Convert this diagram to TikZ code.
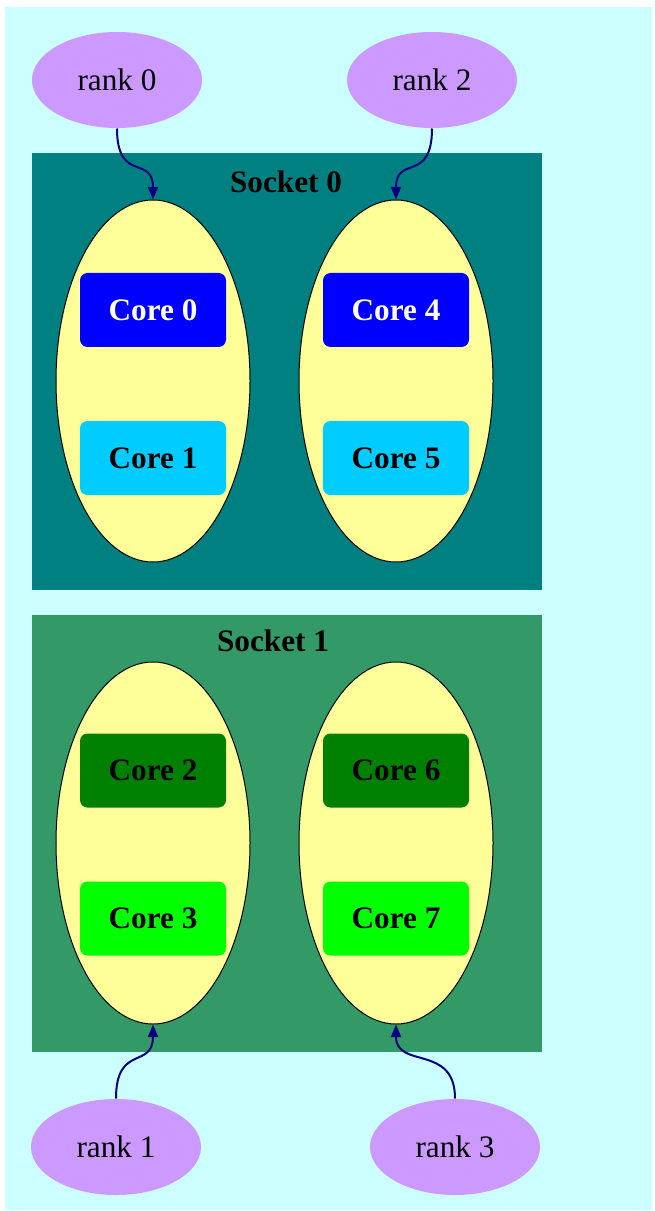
\documentclass[tikz,border=0pt]{standalone}
\usepackage{fontspec}
\setmainfont{Liberation Serif}
\usepackage{xcolor}
\usepackage{tikz}
\usetikzlibrary{positioning, arrows.meta, shapes.geometric}

\definecolor{bgcyan}{HTML}{CCFFFF}
\definecolor{rankpurple}{HTML}{CC99FF}
\definecolor{sockteal}{HTML}{008080}
\definecolor{sockgreen}{HTML}{339966}
\definecolor{chipyellow}{HTML}{FFFF99}
\definecolor{coreblue}{HTML}{0000FF}
\definecolor{coresky}{HTML}{00CCFF}
\definecolor{coredark}{HTML}{008000}
\definecolor{corelime}{HTML}{00FF00}
\definecolor{linknavy}{HTML}{000080}

\begin{document}
\begin{tikzpicture}[
x=0.4pt, y=-0.4pt,
node distance=29.2pt,
every node/.style={font=\fontsize{12.5}{14}\selectfont, inner sep=0pt},
rank/.style={ellipse, fill=rankpurple, minimum width=68pt, minimum height=38.4pt},
socket/.style={rectangle, minimum width=204pt, minimum height=174.8pt},
slabel/.style={font=\fontsize{12.5}{14}\selectfont\bfseries},
chip/.style={ellipse, draw=black, fill=chipyellow, line width=0.4pt, minimum width=77.6pt, minimum height=144.8pt},
core/.style={rectangle, rounded corners=3pt, minimum width=58.4pt, minimum height=29.6pt, font=\fontsize{12.5}{14}\selectfont\bfseries},
link/.style={->, >={Triangle[length=5pt, width=4pt]}, line width=0.8pt, draw=linknavy}
]
\useasboundingbox (0,0) rectangle (654,1211);

% ====== Background ======
\node[rectangle, fill=bgcyan, minimum width=258.8pt, minimum height=481.2pt] (bg) at (328.5,608.5) {};

% ====== Sockets ======
\node[socket, fill=sockteal] (sock0) at (287,371.5) {};
\node[socket, fill=sockgreen] (sock1) at (287,833) {};
\node[slabel] (lab0) at (286,182) {Socket 0};
\node[slabel] (lab1) at (273,641) {Socket 1};

% ====== Socket 0 ======
\node[chip] (chipA) at (153,381) {};
\node[chip] (chipB) at (396,381) {};
\node[core, fill=coreblue, text=white] (core0) at (153,310) {Core 0};
\node[core, fill=coresky, below=of core0] (core1) {Core 1};
\node[core, fill=coreblue, text=white] (core4) at (396,310) {Core 4};
\node[core, fill=coresky, below=of core4] (core5) {Core 5};

% ====== Socket 1 ======
\node[chip] (chipC) at (153,843) {};
\node[chip] (chipD) at (396,843) {};
\node[core, fill=coredark] (core2) at (153,770.5) {Core 2};
\node[core, fill=corelime, below=of core2] (core3) {Core 3};
\node[core, fill=coredark] (core6) at (396,770.5) {Core 6};
\node[core, fill=corelime, below=of core6] (core7) {Core 7};

% ====== Ranks ======
\node[rank] (rank0) at (117,80) {rank 0};
\node[rank] (rank2) at (432,80) {rank 2};
\node[rank] (rank1) at (116,1147) {rank 1};
\node[rank] (rank3) at (455,1147) {rank 3};

% ====== Connections ======
\draw[link] (rank0.south) .. controls +(0,55) and +(0,-45) .. (chipA.north);
\draw[link] (rank2.south) .. controls +(0,55) and +(0,-45) .. (chipB.north);
\draw[link] (rank1.north) .. controls +(0,-55) and +(0,45) .. (chipC.south);
\draw[link] (rank3.north) .. controls +(0,-55) and +(0,45) .. (chipD.south);

\end{tikzpicture}
\end{document}
